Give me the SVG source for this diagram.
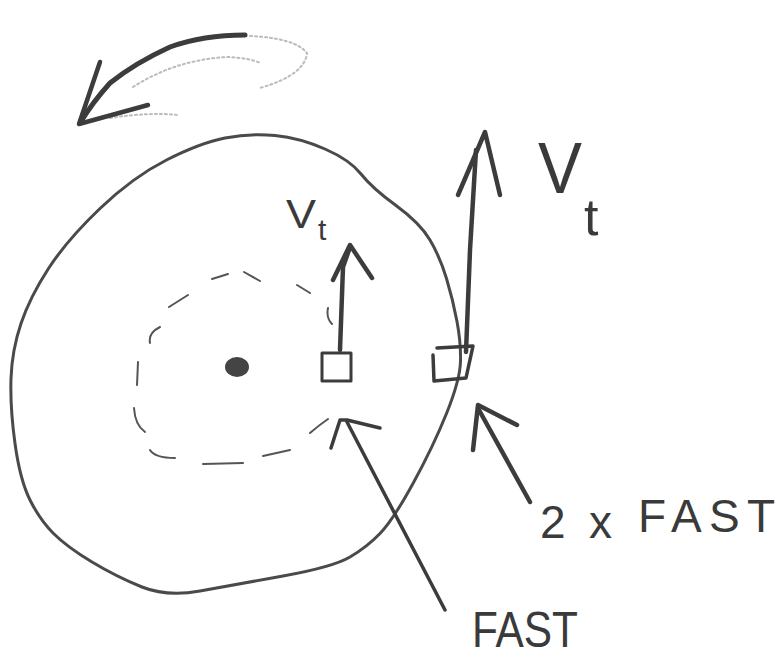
<svg xmlns="http://www.w3.org/2000/svg" width="779" height="658" viewBox="0 0 779 658">
  <style>
    .pencil { fill: none; stroke: #3c3c3c; stroke-linecap: round; stroke-linejoin: round; }
    .wheel { stroke-width: 3; stroke: #4a4a4a; }
    .dash { stroke-width: 2; stroke: #555; }
    .arrow { stroke-width: 4.5; }
    .faint { fill: none; stroke: #bbb; stroke-width: 2; stroke-dasharray: 2 3; stroke-linecap: round; }
    .hand { font-family: "Liberation Sans", Arial, sans-serif; fill: #3a3a3a; }
  </style>
  <rect width="779" height="658" fill="#fff"/>

  <g id="wheel">
    <path class="pencil wheel" d="M457,321.5 Q453,300 446.5,278.5 Q440,257 430,240 Q420,223 396,205.5 Q372,188 361,174 Q350,160 325,149 Q300,138 275,135.5 Q250,133 225,138 Q200,143 166.5,160 Q133,177 100,208.5 Q67,240 48.5,268.5 Q30,297 21,323.5 Q12,350 11,378.5 Q10,407 15,443.5 Q20,480 30,500 Q40,520 53.5,533.5 Q67,547 92,562 Q117,577 142,587 Q167,597 200,591 Q233,585 283,576 Q333,567 350,557 Q367,547 380,533.5 Q393,520 413,483.5 Q433,447 446.5,413.5 Q460,380 460.5,361.5 Q461,343 457,321.5 Z"/>
  </g>

  <g id="center">
    <ellipse cx="237" cy="367" rx="12" ry="10" fill="#444"/>
  </g>

  <g id="inner-track">
    <path class="pencil dash" d="M169,307 L188,295 M212,279 L228,274 M244,272 L260,281 M297,285 L310,293 M328,308 Q326,318 332,324 M160,327 Q148,333 150,343 M138,362 L137,385 M134,408 Q135,425 145,432 M150,450 Q155,458 175,458 M203,464 L243,463 M263,456 L290,450 M310,433 Q318,426 328,419"/>
  </g>

  <g id="point-inner">
    <rect class="pencil" x="322" y="353" width="29" height="28" stroke-width="3"/>
  </g>

  <g id="point-outer">
    <path class="pencil" stroke-width="3.5" d="M437,348 L473,346 L466,378 L434,381 L433,355"/>
  </g>

  <g id="connectors">
    <!-- rotation arrow -->
    <path class="faint" d="M250,36 Q295,38 307,53 Q305,75 260,88"/>
    <path class="faint" d="M133,87 Q175,60 227,57 Q250,58 260,63"/>
    <path class="faint" d="M110,118 Q150,112 178,115"/>
    <path class="pencil" stroke-width="5" d="M245,35 Q203,35 170,47 Q135,63 110,83 Q92,103 80,123"/>
    <polyline class="pencil" stroke-width="4.5" points="100,62 79,124 148,105"/>
    <!-- inner velocity arrow -->
    <path class="pencil arrow" d="M340,350 L343,267 L349,250"/>
    <polyline class="pencil arrow" points="333,280 350,245 372,278"/>
    <!-- outer velocity arrow -->
    <path class="pencil arrow" d="M466,352 L470,250 L476,150"/>
    <polyline class="pencil arrow" points="458,195 485,132 500,195"/>
    <!-- FAST pointer -->
    <line class="pencil" stroke-width="3.5" x1="347" y1="422" x2="445" y2="610"/>
    <polyline class="pencil" stroke-width="3.5" points="331,448 340,420 347,420 380,428"/>
    <!-- 2x FAST pointer -->
    <line class="pencil arrow" x1="479" y1="410" x2="530" y2="502"/>
    <polyline class="pencil arrow" points="473,450 478,405 517,425"/>
  </g>

  <g id="labels">
    <text class="hand" x="538" y="193" font-size="72" textLength="44" lengthAdjust="spacingAndGlyphs">V</text>
    <text class="hand" x="584" y="235" font-size="52">t</text>
    <text class="hand" x="286" y="228" font-size="40" textLength="30" lengthAdjust="spacingAndGlyphs">V</text>
    <text class="hand" x="318" y="240" font-size="30">t</text>
    <text class="hand" x="540" y="538" font-size="46" textLength="72" lengthAdjust="spacing">2x</text>
    <text class="hand" x="638" y="532" font-size="46" textLength="137" lengthAdjust="spacing">FAST</text>
    <text class="hand" x="472" y="647" font-size="50" textLength="106" lengthAdjust="spacingAndGlyphs">FAST</text>
  </g>
</svg>
